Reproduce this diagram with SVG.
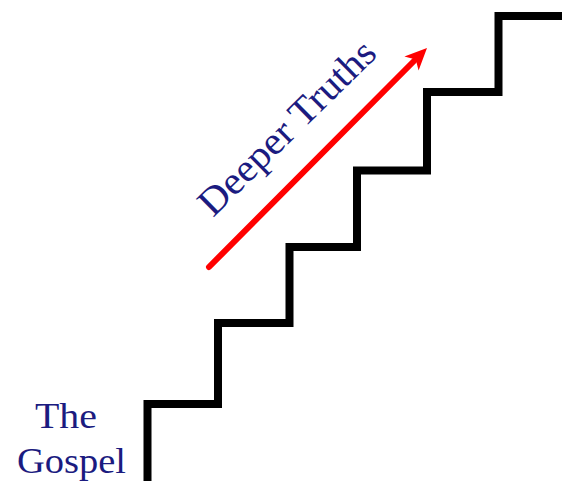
<svg xmlns="http://www.w3.org/2000/svg" width="562" height="481" viewBox="0 0 562 481">
  <style>
    .lbl { font-family: "Liberation Serif", "Times New Roman", serif; fill: #1B1B80; }
    .stair { fill: none; stroke: #000; stroke-width: 8; stroke-linejoin: miter; }
    .arrow { stroke: #FF0000; stroke-width: 6; stroke-linecap: round; fill: none; }
  </style>
  <rect width="562" height="481" fill="#fff"/>
  <g id="staircase">
    <path class="stair" d="M147.5,481 V404 H218 V323 H289.5 V247 H357 V170.5 H427 V92 H498.5 V16 H562"/>
  </g>
  <g id="connectors">
    <line class="arrow" x1="209" y1="267" x2="414" y2="61"/>
    <polygon points="427,48 404.4,56.6 415.7,59.4 418.6,70.6" fill="#FF0000"/>
  </g>
  <g id="label-deeper-truths">
    <text class="lbl" x="0" y="0" font-size="39" textLength="232" lengthAdjust="spacingAndGlyphs" transform="translate(213,218) rotate(-44.5)">Deeper Truths</text>
  </g>
  <g id="label-the-gospel">
    <text class="lbl" x="35" y="428" font-size="36" textLength="62" lengthAdjust="spacingAndGlyphs">The</text>
    <text class="lbl" x="17" y="473" font-size="36" textLength="109" lengthAdjust="spacingAndGlyphs">Gospel</text>
  </g>
</svg>
